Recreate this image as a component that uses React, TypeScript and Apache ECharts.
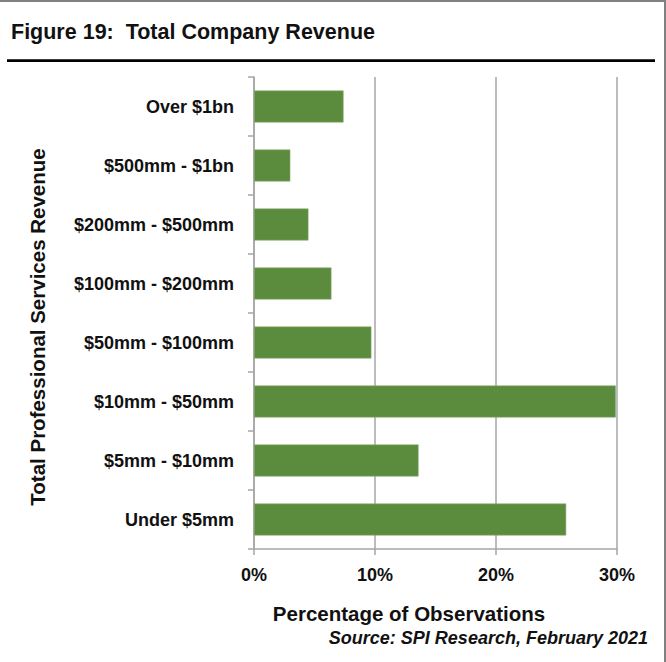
import React, { useEffect, useRef } from "react";
import * as echarts from "echarts";

const categories = [
  "Over $1bn",
  "$500mm - $1bn",
  "$200mm - $500mm",
  "$100mm - $200mm",
  "$50mm - $100mm",
  "$10mm - $50mm",
  "$5mm - $10mm",
  "Under $5mm",
];
const values = [7.4, 3.0, 4.5, 6.4, 9.7, 29.9, 13.6, 25.8];
const xTicks = { min: 0, max: 30, interval: 10 };

const titleText = "Figure 19:  Total Company Revenue";
const yName = "Total Professional Services Revenue";
const xName = "Percentage of Observations";
const sourceText = "Source: SPI Research, February 2021";

const FONT = "'Liberation Sans', Arial, sans-serif";

export default function App() {
  const ref = useRef<HTMLDivElement>(null);
  useEffect(() => {
    if (!ref.current) return;
    const chart = echarts.init(ref.current, null, { renderer: "svg" });
    const gray = "#A6A6A6";
    chart.setOption({
      animation: false,
      backgroundColor: "#ffffff",
      grid: { left: 254, right: 49, top: 77, bottom: 113, containLabel: false },
      xAxis: {
        type: "value",
        min: xTicks.min,
        max: xTicks.max,
        interval: xTicks.interval,
        axisLine: { show: true, lineStyle: { color: gray, width: 1.5 } },
        axisTick: { show: true, length: 6, lineStyle: { color: gray, width: 1.5 } },
        splitLine: { show: true, lineStyle: { color: gray, width: 1.5 } },
        axisLabel: {
          formatter: "{value}%",
          color: "#111",
          fontFamily: FONT,
          fontWeight: "bold",
          fontSize: 18,
          margin: 17,
        },
      },
      yAxis: {
        type: "category",
        data: categories,
        inverse: true,
        axisLine: { show: true, lineStyle: { color: gray, width: 1.5 } },
        axisTick: { show: true, length: 6, lineStyle: { color: gray, width: 1.5 } },
        splitLine: { show: false },
        axisLabel: {
          color: "#111",
          fontFamily: FONT,
          fontWeight: "bold",
          fontSize: 18,
          margin: 20,
          padding: [0, 0, 5, 0],
        },
      },
      series: [
        {
          type: "bar",
          data: values,
          barCategoryGap: "46%",
          itemStyle: { color: "#5B8C3D", borderColor: "#86A86E", borderWidth: 0.6 },
        },
      ],
      graphic: [
        { type: "rect", shape: { x: 0, y: 0, width: 666, height: 2 }, style: { fill: "#808080" } },
        { type: "rect", shape: { x: 664, y: 0, width: 2, height: 662 }, style: { fill: "#808080" } },
        { type: "rect", shape: { x: 7, y: 59.3, width: 648, height: 2.6 }, style: { fill: "#000" } },
        {
          type: "text",
          x: 11,
          y: 32,
          style: {
            text: titleText,
            fill: "#111",
            font: `bold 21.5px ${FONT}`,
            textVerticalAlign: "middle",
          },
        },
        {
          type: "text",
          x: 37,
          y: 327,
          rotation: Math.PI / 2,
          style: {
            text: yName,
            fill: "#111",
            font: `bold 20.5px ${FONT}`,
            textAlign: "center",
            textVerticalAlign: "middle",
          },
        },
        {
          type: "text",
          x: 409,
          y: 613,
          style: {
            text: xName,
            fill: "#111",
            font: `bold 20.5px ${FONT}`,
            textAlign: "center",
            textVerticalAlign: "middle",
          },
        },
        {
          type: "text",
          x: 648,
          y: 638,
          style: {
            text: sourceText,
            fill: "#111",
            font: `italic bold 18px ${FONT}`,
            textAlign: "right",
            textVerticalAlign: "middle",
          },
        },
      ],
    });
    return () => chart.dispose();
  }, []);
  return (
    <div
      ref={ref}
      style={{ position: "absolute", left: 0, top: 0, width: 666, height: 662 }}
    />
  );
}
